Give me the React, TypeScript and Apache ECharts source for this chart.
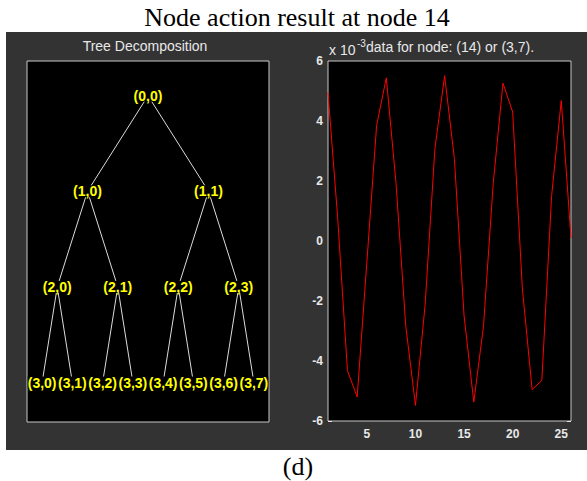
import React, { useEffect, useRef } from "react";
import * as echarts from "echarts";

// ---- texts ----
const figureTitle = "Node action result at node 14";
const figureCaption = "(d)";
const treeTitle = "Tree Decomposition";
const signalTitle = "data for node: (14) or (3,7).";
const exponentBase = "x 10";
const exponentPower = "-3";

// ---- tree ----
const treeDepth = 3;
const treeLevelLabels: string[][] = [
  ["(0,0)"],
  ["(1,0)", "(1,1)"],
  ["(2,0)", "(2,1)", "(2,2)", "(2,3)"],
  ["(3,0)", "(3,1)", "(3,2)", "(3,3)", "(3,4)", "(3,5)", "(3,6)", "(3,7)"],
];

// ---- signal (units of 1e-3) ----
const sampleIndex = [1, 2, 3, 4, 5, 6, 7, 8, 9, 10, 11, 12, 13, 14, 15, 16, 17, 18, 19, 20, 21, 22, 23, 24, 25, 26];
const signalValues = [
  4.95, 0.75, -4.32, -5.2, -0.7, 3.85, 5.44, 1.92, -2.83, -5.48, -2.1, 3.08, 5.51,
  2.75, -2.5, -5.37, -2.83, 1.92, 5.26, 4.3, -1.6, -4.95, -4.65, 1.48, 4.68, 0.1,
];
const xTickValues = [5, 10, 15, 20, 25];
const xMin = 1;
const xMax = 26;
const yMin = -6;
const yMax = 6;
const yStep = 2;

const SANS = "Liberation Sans";
const SERIF = "Liberation Serif";

function buildTree() {
  const nodes: any[] = [];
  const links: any[] = [];
  treeLevelLabels.forEach((row, level) => {
    const span = Math.pow(2, treeDepth - level);
    row.forEach((label, i) => {
      nodes.push({ name: label, value: [(i + 0.5) * span - 0.5, level] });
      if (level > 0) {
        links.push({ source: treeLevelLabels[level - 1][Math.floor(i / 2)], target: label });
      }
    });
  });
  return { nodes, links };
}

function txt(x: number, y: number, text: string, size: number, family: string, fill: string, align: string) {
  return {
    type: "text",
    x,
    y,
    z: 100,
    silent: true,
    style: {
      text,
      font: `${size}px "${family}"`,
      fontSize: size,
      fontFamily: family,
      fill,
      align,
      textAlign: align,
      verticalAlign: "middle",
      textVerticalAlign: "middle",
    },
  };
}

export default function App() {
  const ref = useRef<HTMLDivElement>(null);

  useEffect(() => {
    if (!ref.current) return;
    const chart = echarts.init(ref.current, undefined, { renderer: "svg" });
    const { nodes, links } = buildTree();
    const tickColor = "#ffffff";
    const labelColor = "#e8e8e8";
    const borderColor = "#c8c8c8";

    const option: any = {
      animation: false,
      backgroundColor: "#ffffff",
      grid: [
        { left: 27, top: 61, width: 242, height: 361, show: true, backgroundColor: "#000000", borderColor, borderWidth: 1, z: 1 },
        { left: 328, top: 61, width: 243, height: 360, show: true, backgroundColor: "#000000", borderColor, borderWidth: 1, z: 1 },
      ],
      xAxis: [
        { gridIndex: 0, type: "value", min: -0.5, max: 7.5, show: false },
        {
          gridIndex: 1, type: "value", min: xMin, max: xMax, position: "bottom",
          axisLine: { show: false },
          axisTick: { show: true, inside: true, length: 4, customValues: xTickValues, lineStyle: { color: tickColor } },
          axisLabel: { show: true, customValues: xTickValues, margin: 7, color: labelColor, fontSize: 12, fontWeight: "bold", fontFamily: SANS },
          splitLine: { show: false },
        },
        {
          gridIndex: 1, type: "value", min: xMin, max: xMax, position: "top",
          axisLine: { show: false },
          axisTick: { show: true, inside: true, length: 4, customValues: xTickValues, lineStyle: { color: tickColor } },
          axisLabel: { show: false },
          splitLine: { show: false },
        },
      ],
      yAxis: [
        { gridIndex: 0, type: "value", min: -0.363, max: 3.413, inverse: true, show: false },
        {
          gridIndex: 1, type: "value", min: yMin, max: yMax, interval: yStep, position: "left",
          axisLine: { show: false },
          axisTick: { show: true, inside: true, length: 4, lineStyle: { color: tickColor } },
          axisLabel: { show: true, margin: 5, color: labelColor, fontSize: 12, fontWeight: "bold", fontFamily: SANS },
          splitLine: { show: false },
        },
        {
          gridIndex: 1, type: "value", min: yMin, max: yMax, interval: yStep, position: "right",
          axisLine: { show: false },
          axisTick: { show: true, inside: true, length: 4, lineStyle: { color: tickColor } },
          axisLabel: { show: false },
          splitLine: { show: false },
        },
      ],
      series: [
        {
          type: "graph",
          coordinateSystem: "cartesian2d",
          xAxisIndex: 0,
          yAxisIndex: 0,
          layout: "none",
          silent: true,
          symbol: "circle",
          symbolSize: 0.1,
          itemStyle: { color: "rgba(0,0,0,0)" },
          edgeSymbol: ["none", "none"],
          data: nodes,
          links,
          lineStyle: { color: "#dcdcdc", width: 1, opacity: 1, curveness: 0 },
          label: {
            show: true,
            position: "inside",
            formatter: "{b}",
            color: "#ffff00",
            fontFamily: SANS,
            fontWeight: "bold",
            fontSize: 14,
            lineHeight: 8,
            padding: [4, 0, 0, 0],
            backgroundColor: "#000000",
          },
          emphasis: { disabled: true },
          z: 5,
        },
        {
          type: "line",
          xAxisIndex: 1,
          yAxisIndex: 1,
          data: sampleIndex.map((x, i) => [x, signalValues[i]]),
          symbol: "none",
          showSymbol: false,
          lineStyle: { color: "#ff0000", width: 1 },
          silent: true,
          z: 5,
        },
      ],
      graphic: [
        { type: "rect", z: -10, silent: true, shape: { x: 6, y: 32, width: 581, height: 418 }, style: { fill: "#333333" } },
        txt(297, 17, figureTitle, 26, SERIF, "#000000", "center"),
        txt(298, 466, figureCaption, 26, SERIF, "#000000", "center"),
        txt(145, 46, treeTitle, 14, SANS, labelColor, "center"),
        txt(329, 50, exponentBase, 14, SANS, labelColor, "left"),
        txt(357, 43, exponentPower, 10, SANS, labelColor, "left"),
        txt(366, 47, signalTitle, 14, SANS, labelColor, "left"),
      ],
    };

    chart.setOption(option);
    return () => chart.dispose();
  }, []);

  return (
    <div
      ref={ref}
      style={{ position: "absolute", left: 0, top: 0, width: 587, height: 481 }}
    />
  );
}
